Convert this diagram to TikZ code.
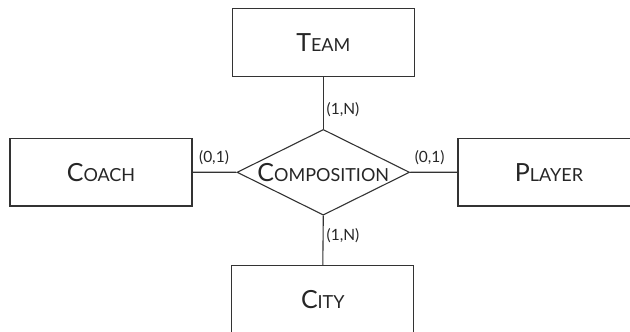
\documentclass[tikz,border=0pt]{standalone}
\usepackage{fontspec}
\setmainfont{Lato}
\usetikzlibrary{shapes.geometric}
\newcommand\ercap[2]{{\fontsize{25}{25}\selectfont #1}{\fontsize{18}{18}\selectfont #2}}
\begin{document}
\begin{tikzpicture}[x=1pt,y=-1pt,
  ent/.style={draw=black!80, line width=1.1pt, minimum width=182pt, minimum height=67.5pt, inner sep=0pt, text=black!85},
  rel/.style={draw=black!80, line width=1.1pt, shape=diamond, aspect=2, minimum width=172.6pt, minimum height=85.7pt, inner sep=0pt, text=black!85},
  card/.style={font=\fontsize{15.5}{15.5}\selectfont, text=black!85, inner sep=1pt},
  conn/.style={draw=black!80, line width=1.1pt}]
\useasboundingbox (0,0) rectangle (630,332);
\node[ent] (team) at (323.3,42.3) {\ercap{T}{EAM}};
\node[ent] (coach) at (101,172.2) {\ercap{C}{OACH}};
\node[ent] (player) at (549,172.2) {\ercap{P}{LAYER}};
\node[ent] (city) at (322.8,299.5) {\ercap{C}{ITY}};
\node[rel] (comp) at (323.3,172.3) {\ercap{C}{OMPOSITION}};
\draw[conn] (team.south) -- (comp.north);
\draw[conn] (city.north) -- (comp.south);
\draw[conn] (coach.east) -- (comp.west);
\draw[conn] (player.west) -- (comp.east);
\node[card, anchor=west] (ltop) at (325.5,110) {(1,N)};
\node[card, anchor=west] (lbot) at (325.5,235.5) {(1,N)};
\node[card] (lleft) at (214,158) {(0,1)};
\node[card] (lright) at (429.7,158) {(0,1)};
\end{tikzpicture}
\end{document}
